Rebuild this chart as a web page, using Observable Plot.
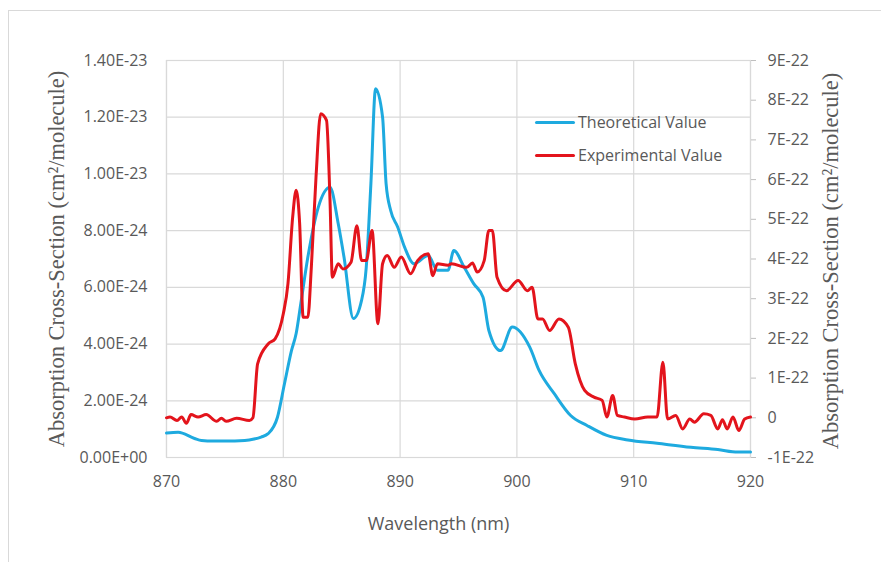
<!DOCTYPE html>
<html>
<head>
<meta charset="utf-8">
<script src="https://cdn.jsdelivr.net/npm/d3@7"></script>
<script src="https://cdn.jsdelivr.net/npm/@observablehq/plot@0.6"></script>
<style>
  html, body { margin: 0; padding: 0; background: #fff; }
  #wrap { position: relative; width: 881px; height: 562px; overflow: hidden; }
  #border { position: absolute; left: 8px; top: 10px; width: 900px; height: 600px; border: 1px solid #d9d9d9; }
  #chart { position: absolute; left: 0; top: 0; }
  #legend { position: absolute; left: 535px; top: 110px; font-family: "Open Sans", sans-serif; font-size: 16px; color: #595959; }
  .item { display: flex; align-items: center; height: 24px; margin-bottom: 9px; }
  .swatch { width: 40px; height: 3px; margin-right: 3px; border-radius: 2px; }
</style>
</head>
<body>
<div id="wrap">
  <div id="border"></div>
  <div id="chart"></div>
  <div id="legend"></div>
</div>
<script>
// Theoretical value (left axis), units of 1E-24 cm^2/molecule
const theoWavelength = [870,871,872.4,873,874,875,876.7,877.5,878.1,878.7,879.5,880.1,880.7,881.1,881.5,882.1,883,884,884.7,885.2,886,886.7,887.1,887.5,887.9,888.5,888.8,889.2,889.8,890.4,891.2,892.4,893.2,894.1,894.6,895.5,896.3,897.1,897.6,898.6,899.6,901.1,901.9,903.2,904.6,906,907.7,909.5,912,914.9,917.2,918.9,920];
const theoValue = [0.86,0.89,0.67,0.6,0.58,0.58,0.6,0.65,0.72,0.84,1.42,2.6,3.77,4.37,5.43,7.06,8.83,9.53,8.25,7.06,4.9,5.54,6.7,9.66,13.0,12.0,9.66,8.7,8.12,7.4,6.83,7.12,6.6,6.6,7.3,6.7,6.13,5.65,4.48,3.77,4.6,3.89,3.07,2.25,1.48,1.13,0.78,0.62,0.5,0.36,0.28,0.19,0.19];

// Experimental value (right axis), units of 1E-22 cm^2/molecule
const expWavelength = [870,870.3,870.9,871.3,871.7,872.1,872.7,873.4,874.3,874.7,875.1,876,877.1,877.4,877.8,878.7,879.3,880,880.4,880.8,881.1,881.4,881.7,882.1,882.4,882.8,883.2,883.7,884,884.2,884.7,885.1,885.8,886.3,886.7,887.1,887.6,888.1,888.5,888.9,889.5,890.1,890.9,891.5,892.4,892.8,893.2,894.1,894.4,895.7,896.2,896.6,897.2,897.6,897.9,898.3,899.1,900.1,900.9,901.3,901.8,902.2,902.8,903.6,904.4,905,905.8,906.6,907.3,907.7,908.2,908.6,909.2,910.1,911.2,912,912.5,912.9,913.6,914.2,914.8,915.2,916,916.6,917.2,917.6,918,918.5,919,919.5,920];
const expValue = [0,0.02,-0.07,0.02,-0.14,0.08,0.02,0.08,-0.09,-0.01,-0.09,-0.01,-0.07,0,1.36,1.86,1.99,2.62,3.38,5.05,5.73,4.89,2.53,2.53,3.79,6.06,7.66,7.49,5.47,3.54,3.88,3.75,3.92,4.84,3.96,3.96,4.72,2.37,3.88,4.09,3.79,4.05,3.63,3.96,4.13,3.58,3.88,3.84,3.88,3.79,3.9,3.67,3.96,4.72,4.72,3.54,3.2,3.46,3.2,3.29,2.49,2.49,2.2,2.49,2.28,1.36,0.69,0.52,0.44,0.02,0.56,0.06,0.02,-0.03,0.02,0.02,1.4,-0.03,0.06,-0.28,-0.03,-0.11,0.1,0.06,-0.28,-0.05,-0.28,0.02,-0.32,-0.03,0.02];

const xTicks = [870, 880, 890, 900, 910, 920];
const leftTicks = [0, 2e-24, 4e-24, 6e-24, 8e-24, 1e-23, 1.2e-23, 1.4e-23];
const rightTicks = [-1, 0, 1, 2, 3, 4, 5, 6, 7, 8, 9]; // units of 1E-22
const seriesNames = ["Theoretical Value", "Experimental Value"];
const seriesColors = ["#1eaadf", "#e3141c"];

const leftMax = 1.4e-23;
const rightMin = -1e-22, rightMax = 9e-22;
const toLeft = r => (r - rightMin) / (rightMax - rightMin) * leftMax;
const fromLeft = v => v / leftMax * (rightMax - rightMin) + rightMin;

const theo = theoWavelength.map((w, i) => ({w, v: theoValue[i] * 1e-24}));
const exp = expWavelength.map((w, i) => ({w, v: toLeft(expValue[i] * 1e-22)}));

const fmtLeft = v => v === 0 ? "0.00E+00" : v.toExponential(2).toUpperCase();
const fmtRight = v => { const r = Math.round(fromLeft(v) / 1e-22); return r === 0 ? "0" : `${r}E-22`; };

const gray = "#595959";
const gridColor = "#d9d9d9";
const yTitle = "Absorption Cross-Section (cm²/molecule)";

const chart = Plot.plot({
  width: 881,
  height: 562,
  marginTop: 60,
  marginBottom: 105,
  marginLeft: 166,
  marginRight: 131,
  style: {fontFamily: "'Open Sans', sans-serif", fontSize: "16px", color: gray, background: "transparent"},
  x: {domain: [870, 920]},
  y: {domain: [0, leftMax]},
  marks: [
    Plot.gridX(xTicks, {stroke: gridColor, strokeOpacity: 1, strokeWidth: 1.2}),
    Plot.gridY(leftTicks, {stroke: gridColor, strokeOpacity: 1, strokeWidth: 1.2}),
    Plot.frame({stroke: gridColor, strokeWidth: 1.2}),
    Plot.axisX(xTicks, {tickSize: 0, tickPadding: 18, tickFormat: d => String(d), label: null, fill: gray}),
    Plot.axisY(leftTicks, {anchor: "left", tickSize: 0, tickPadding: 19, tickFormat: fmtLeft, label: null, fill: gray}),
    Plot.axisY(rightTicks.map(r => toLeft(r * 1e-22)), {anchor: "right", tickSize: 5, tickPadding: 12, stroke: "#bfbfbf", tickFormat: fmtRight, label: null, fill: gray}),
    Plot.line(theo, {x: "w", y: "v", stroke: seriesColors[0], strokeWidth: 3, curve: "monotone-x"}),
    Plot.line(exp, {x: "w", y: "v", stroke: seriesColors[1], strokeWidth: 3, curve: "monotone-x"}),
    Plot.text([yTitle], {frameAnchor: "left", dx: -110, dy: 0, rotate: -90, textAnchor: "middle", fontFamily: "'Liberation Serif', serif", fontSize: 22.5, fill: gray}),
    Plot.text([yTitle], {frameAnchor: "right", dx: 80, dy: 2, rotate: -90, textAnchor: "middle", fontFamily: "'Liberation Serif', serif", fontSize: 22.5, fill: gray}),
    Plot.text(["Wavelength (nm)"], {frameAnchor: "bottom", dx: -20, dy: 72, fontSize: 18, fill: gray})
  ]
});
document.getElementById("chart").appendChild(chart);

const legend = document.getElementById("legend");
seriesNames.forEach((name, i) => {
  const row = document.createElement("div");
  row.className = "item";
  const sw = document.createElement("span");
  sw.className = "swatch";
  sw.style.background = seriesColors[i];
  const label = document.createElement("span");
  label.textContent = name;
  row.appendChild(sw);
  row.appendChild(label);
  legend.appendChild(row);
});
</script>
</body>
</html>
